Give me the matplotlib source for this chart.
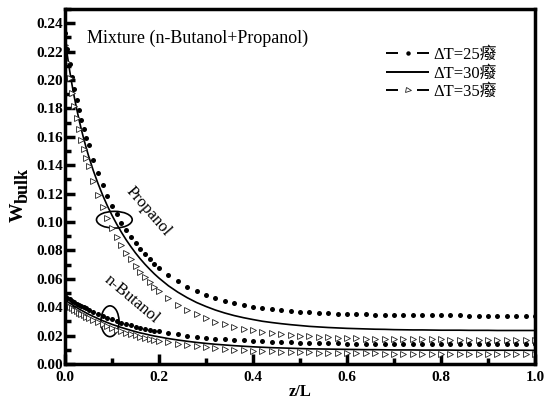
import numpy as np
import matplotlib
matplotlib.use("Agg")
import matplotlib.pyplot as plt
from matplotlib.lines import Line2D
from matplotlib.patches import Ellipse
from matplotlib.legend_handler import HandlerBase

plt.rcParams['font.family'] = ['Liberation Serif', 'Noto Sans CJK SC', 'DejaVu Sans']

# ---- data ----
z = [0.000, 0.005, 0.010, 0.015, 0.020, 0.025, 0.030, 0.035, 0.040, 0.045, 0.050,
     0.06, 0.07, 0.08, 0.09, 0.10, 0.11, 0.12, 0.13, 0.14, 0.15, 0.16, 0.17, 0.18, 0.19, 0.20,
     0.22, 0.24, 0.26, 0.28, 0.30, 0.32, 0.34, 0.36, 0.38, 0.40, 0.42, 0.44, 0.46, 0.48, 0.50,
     0.52, 0.54, 0.56, 0.58, 0.60, 0.62, 0.64, 0.66, 0.68, 0.70, 0.72, 0.74, 0.76, 0.78, 0.80,
     0.82, 0.84, 0.86, 0.88, 0.90, 0.92, 0.94, 0.96, 0.98, 1.00]

# Propanol
propanol_dT25 = [0.2330, 0.2218, 0.2116, 0.2024, 0.1938, 0.1859, 0.1786, 0.1718, 0.1654, 0.1595,
                 0.1539, 0.1436, 0.1343, 0.1260, 0.1185, 0.1116, 0.1053, 0.0996, 0.0943, 0.0895,
                 0.0850, 0.0809, 0.0772, 0.0737, 0.0706, 0.0677, 0.0625, 0.0581, 0.0545, 0.0513,
                 0.0487, 0.0464, 0.0445, 0.0429, 0.0416, 0.0404, 0.0394, 0.0386, 0.0379, 0.0373,
                 0.0368, 0.0364, 0.0360, 0.0357, 0.0354, 0.0352, 0.0350, 0.0349, 0.0347, 0.0346,
                 0.0345, 0.0344, 0.0344, 0.0343, 0.0343, 0.0342, 0.0342, 0.0342, 0.0341, 0.0341,
                 0.0341, 0.0341, 0.0341, 0.0341, 0.0341, 0.0340]
propanol_dT30 = [0.2295, 0.2173, 0.2064, 0.1965, 0.1876, 0.1794, 0.1718, 0.1649, 0.1584, 0.1524,
                 0.1467, 0.1364, 0.1273, 0.1190, 0.1115, 0.1047, 0.0985, 0.0928, 0.0875, 0.0827,
                 0.0782, 0.0741, 0.0703, 0.0668, 0.0635, 0.0605, 0.0551, 0.0506, 0.0467, 0.0433,
                 0.0405, 0.0380, 0.0359, 0.0341, 0.0326, 0.0313, 0.0301, 0.0292, 0.0284, 0.0277,
                 0.0271, 0.0265, 0.0261, 0.0257, 0.0254, 0.0251, 0.0249, 0.0247, 0.0245, 0.0244,
                 0.0242, 0.0241, 0.0240, 0.0240, 0.0239, 0.0238, 0.0238, 0.0238, 0.0237, 0.0237,
                 0.0237, 0.0236, 0.0236, 0.0236, 0.0236, 0.0236]
propanol_dT35 = [0.2250, 0.2124, 0.2011, 0.1909, 0.1816, 0.1730, 0.1652, 0.1580, 0.1513, 0.1450,
                 0.1392, 0.1286, 0.1191, 0.1106, 0.1029, 0.0959, 0.0896, 0.0838, 0.0785, 0.0736,
                 0.0691, 0.0650, 0.0612, 0.0577, 0.0545, 0.0515, 0.0463, 0.0419, 0.0381, 0.0349,
                 0.0322, 0.0299, 0.0280, 0.0263, 0.0249, 0.0237, 0.0227, 0.0218, 0.0211, 0.0205,
                 0.0199, 0.0195, 0.0191, 0.0188, 0.0185, 0.0183, 0.0181, 0.0179, 0.0178, 0.0177,
                 0.0176, 0.0175, 0.0174, 0.0173, 0.0173, 0.0173, 0.0172, 0.0172, 0.0172, 0.0171,
                 0.0171, 0.0171, 0.0171, 0.0171, 0.0171, 0.0170]

# n-Butanol
butanol_dT25 = [0.0478, 0.0467, 0.0456, 0.0446, 0.0436, 0.0426, 0.0417, 0.0408, 0.0399, 0.0391,
                0.0382, 0.0367, 0.0352, 0.0339, 0.0326, 0.0314, 0.0303, 0.0292, 0.0282, 0.0273,
                0.0264, 0.0256, 0.0249, 0.0242, 0.0235, 0.0229, 0.0218, 0.0208, 0.0199, 0.0192,
                0.0185, 0.0179, 0.0174, 0.0170, 0.0166, 0.0162, 0.0159, 0.0157, 0.0154, 0.0152,
                0.0151, 0.0149, 0.0148, 0.0146, 0.0145, 0.0144, 0.0144, 0.0143, 0.0142, 0.0142,
                0.0141, 0.0141, 0.0141, 0.0140, 0.0140, 0.0140, 0.0140, 0.0139, 0.0139, 0.0139,
                0.0139, 0.0139, 0.0139, 0.0139, 0.0139, 0.0138]
butanol_dT30 = [0.0451, 0.0439, 0.0428, 0.0418, 0.0407, 0.0397, 0.0387, 0.0378, 0.0369, 0.0360,
                0.0351, 0.0335, 0.0320, 0.0305, 0.0292, 0.0279, 0.0268, 0.0257, 0.0247, 0.0237,
                0.0228, 0.0219, 0.0212, 0.0204, 0.0197, 0.0191, 0.0179, 0.0169, 0.0160, 0.0152,
                0.0145, 0.0139, 0.0134, 0.0129, 0.0125, 0.0121, 0.0118, 0.0115, 0.0113, 0.0111,
                0.0109, 0.0107, 0.0106, 0.0105, 0.0104, 0.0103, 0.0102, 0.0101, 0.0101, 0.0100,
                0.0099, 0.0099, 0.0099, 0.0098, 0.0098, 0.0098, 0.0098, 0.0097, 0.0097, 0.0097,
                0.0097, 0.0097, 0.0097, 0.0097, 0.0097, 0.0096]
butanol_dT35 = [0.0425, 0.0413, 0.0402, 0.0391, 0.0381, 0.0371, 0.0361, 0.0352, 0.0342, 0.0334,
                0.0325, 0.0309, 0.0293, 0.0279, 0.0266, 0.0253, 0.0241, 0.0230, 0.0220, 0.0210,
                0.0201, 0.0193, 0.0185, 0.0178, 0.0171, 0.0164, 0.0152, 0.0142, 0.0133, 0.0125,
                0.0118, 0.0112, 0.0107, 0.0102, 0.0098, 0.0094, 0.0091, 0.0089, 0.0086, 0.0084,
                0.0082, 0.0081, 0.0079, 0.0078, 0.0077, 0.0076, 0.0075, 0.0074, 0.0074, 0.0073,
                0.0073, 0.0072, 0.0072, 0.0071, 0.0071, 0.0071, 0.0071, 0.0070, 0.0070, 0.0070,
                0.0070, 0.0070, 0.0070, 0.0070, 0.0070, 0.0069]

legend_labels = ['ΔT=25癈', 'ΔT=30癈', 'ΔT=35癈']
x_ticks = [0.0, 0.2, 0.4, 0.6, 0.8, 1.0]
y_ticks = [0.00, 0.02, 0.04, 0.06, 0.08, 0.10, 0.12, 0.14, 0.16, 0.18, 0.20, 0.22, 0.24]

# ---- figure ----
fig = plt.figure(figsize=(5.5, 4.03), dpi=100)
ax = fig.add_axes([65/550, 1-364/403, 470/550, 355/403])
dot = dict(ls='none', marker='o', ms=3.6, mfc='k', mec='k', mew=0)
tri = dict(ls='none', marker='>', ms=4.4, mfc='white', mec='#222222', mew=0.6)
ax.plot(z, propanol_dT25, **dot)
ax.plot(z, propanol_dT30, color='k', lw=1.2)
ax.plot(z, propanol_dT35, **tri)
ax.plot(z, butanol_dT25, **dot)
ax.plot(z, butanol_dT30, color='k', lw=1.2)
ax.plot(z, butanol_dT35, **tri)

ax.set_xlim(0, 1)
ax.set_ylim(0, 0.25)
ax.set_xticks(x_ticks)
ax.set_xticks([0.1, 0.3, 0.5, 0.7, 0.9], minor=True)
ax.set_yticks(y_ticks)
ax.set_yticks([v + 0.01 for v in y_ticks], minor=True)
ax.set_xticklabels([f"{v:.1f}" for v in x_ticks])
ax.set_yticklabels([f"{v:.2f}" for v in y_ticks])
for s in ax.spines.values():
    s.set_linewidth(2.5)
ax.tick_params(which='both', direction='in', top=False, right=False, width=2.5)
ax.tick_params(which='major', length=7)
ax.tick_params(which='minor', length=4)
ax.tick_params(axis='y', pad=1.5, labelsize=11)
ax.tick_params(axis='x', pad=5, labelsize=11)
for lab in ax.get_xticklabels() + ax.get_yticklabels():
    lab.set_fontweight('bold')
ax.set_xlabel('z/L', fontsize=12, fontweight='bold', labelpad=0)

# y-axis label W_bulk (W plus a large subscript), rotated
fig.text(23/550, 1-222/403, 'W', fontsize=14, fontweight='bold', rotation=90,
         ha='left', va='baseline', rotation_mode='anchor')
fig.text(28/550, 1-203/403, 'bulk', fontsize=13, fontweight='bold', rotation=90,
         ha='left', va='baseline', rotation_mode='anchor')

ax.text(0.047, 0.918, 'Mixture (n-Butanol+Propanol)', transform=ax.transAxes,
        fontsize=13, ha='left', va='center')
ax.text(0.177, 0.1073, 'Propanol', fontsize=12, rotation=-49, ha='center', va='center',
        rotation_mode='anchor')
ax.text(0.142, 0.0459, 'n-Butanol', fontsize=12, rotation=-40, ha='center', va='center',
        rotation_mode='anchor')
ax.add_patch(Ellipse((0.105, 0.1016), 0.076, 0.0118, fill=False, lw=1.2, ec='k'))
ax.add_patch(Ellipse((0.0957, 0.0301), 0.0383, 0.0217, fill=False, lw=1.2, ec='k'))


class DashMarkHandler(HandlerBase):
    """Legend key drawn as: short dash, marker, short dash."""
    def __init__(self, frac=0.27, lw=1.4, **kw):
        super().__init__()
        self.frac = frac
        self.lw = lw
        self.mkw = kw

    def create_artists(self, legend, orig_handle, xdescent, ydescent, width, height,
                       fontsize, trans):
        y = height / 2 - ydescent
        x0 = -xdescent
        x1 = x0 + width
        dl = width * self.frac
        a = Line2D([x0, x0 + dl], [y, y], color='k', lw=self.lw, solid_capstyle='butt')
        b = Line2D([x1 - dl, x1], [y, y], color='k', lw=self.lw, solid_capstyle='butt')
        m = Line2D([(x0 + x1) / 2], [y], ls='none', **self.mkw)
        for art in (a, b, m):
            art.set_transform(trans)
        return [a, b, m]


lw_leg = 1.4
h25 = Line2D([], [], color='k')
h30 = Line2D([], [], color='k', lw=lw_leg, ls='-', solid_capstyle='butt')
h35 = Line2D([], [], color='k')
hmap = {
    h25: DashMarkHandler(lw=lw_leg, marker='o', ms=3.2, mfc='k', mec='k', mew=0),
    h35: DashMarkHandler(lw=lw_leg, marker='>', ms=3.6, mfc='white', mec='#222222', mew=0.6),
}
ax.legend([h25, h30, h35], legend_labels, handler_map=hmap, loc='upper left',
          bbox_to_anchor=(0.683, 0.893), frameon=False, fontsize=12, handlelength=2.58,
          handletextpad=0.24, labelspacing=0.15, borderpad=0, borderaxespad=0)

fig.savefig("out.png")
